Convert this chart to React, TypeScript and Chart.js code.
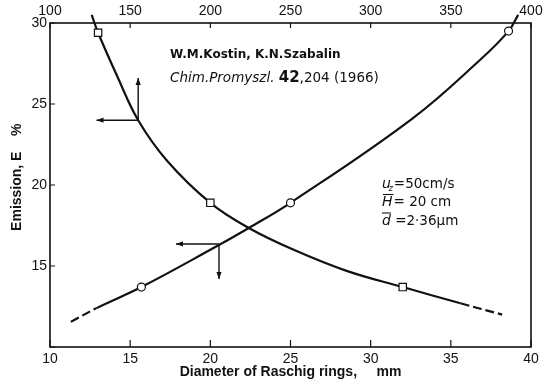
import React, { useEffect, useRef } from 'react';
import { Chart, registerables } from 'chart.js';

Chart.register(...registerables);

// Rising curve: emission vs diameter of Raschig rings (bottom axis, mm)
const diameterMm = [11.3, 12.9, 15.7, 20.0, 22.4, 25.0, 32.6, 36.8, 38.6, 39.2];
const emissionVsDiameter = [11.55, 12.4, 13.7, 16.0, 17.35, 18.9, 24.1, 27.7, 29.5, 30.5];
const circleDiameter = [15.7, 25.0, 38.6];
const circleEmission = [13.7, 18.9, 29.5];

// Falling curve: emission vs top-axis quantity (100..400)
const topValues = [126, 130, 142, 155, 173, 200, 224, 252, 285, 320, 356, 382];
const emissionVsTop = [30.5, 29.4, 26.7, 24.0, 21.5, 18.9, 17.35, 16.0, 14.7, 13.7, 12.7, 12.0];
const squareTop = [130, 200, 320];
const squareEmission = [29.4, 18.9, 13.7];

// Dashed extrapolation limits
const risingDashBelow = 12.9;
const fallingDashAbove = 356;

// Arrow markers: [anchor x, anchor E, horizontal end x, vertical end E]
const arrowFalling = [155, 24.0, 129, 26.6]; // top axis units
const arrowRising = [20.54, 16.36, 17.86, 14.2]; // bottom axis units

// Axis ranges and tick steps
const bottomRange = [10, 40, 5];
const topRange = [100, 400, 50];
const leftRange = [10, 30, 5];

const FONT = '"Liberation Sans", Arial, sans-serif';
const NOTE_FONT = '"DejaVu Sans", "Liberation Sans", sans-serif';

function pts(xs: number[], ys: number[]) {
  return xs.map((x, i) => ({ x, y: ys[i] }));
}

function arrowHead(ctx: CanvasRenderingContext2D, x: number, y: number, dx: number, dy: number) {
  const len = 7, hw = 2.6;
  const px = -dy, py = dx;
  ctx.beginPath();
  ctx.moveTo(x, y);
  ctx.lineTo(x - dx * len + px * hw, y - dy * len + py * hw);
  ctx.lineTo(x - dx * len - px * hw, y - dy * len - py * hw);
  ctx.closePath();
  ctx.fill();
}

function drawArrowPair(ctx: CanvasRenderingContext2D, xs: any, ys: any, a: number[], vertUp: boolean) {
  const ax = xs.getPixelForValue(a[0]);
  const ay = ys.getPixelForValue(a[1]);
  const hx = xs.getPixelForValue(a[2]);
  const vy = ys.getPixelForValue(a[3]);
  ctx.beginPath();
  ctx.moveTo(ax, ay);
  ctx.lineTo(hx, ay);
  ctx.moveTo(ax, ay);
  ctx.lineTo(ax, vy);
  ctx.stroke();
  arrowHead(ctx, hx, ay, -1, 0);
  arrowHead(ctx, ax, vy, 0, vertUp ? -1 : 1);
}

const overlayPlugin = {
  id: 'overlay',
  afterDraw(chart: any) {
    const { ctx, chartArea: a, scales } = chart;
    const sx = scales.x, sx2 = scales.x2, sy = scales.y;
    ctx.save();
    ctx.strokeStyle = '#111';
    ctx.fillStyle = '#111';
    ctx.lineWidth = 1.6;
    ctx.strokeRect(a.left, a.top, a.right - a.left, a.bottom - a.top);

    // inward tick marks
    ctx.lineWidth = 1.2;
    ctx.beginPath();
    sx.ticks.forEach((t: any) => {
      const p = sx.getPixelForValue(t.value);
      ctx.moveTo(p, a.bottom);
      ctx.lineTo(p, a.bottom - 7);
    });
    sx2.ticks.forEach((t: any) => {
      const p = sx2.getPixelForValue(t.value);
      ctx.moveTo(p, a.top);
      ctx.lineTo(p, a.top + 5);
    });
    sy.ticks.forEach((t: any) => {
      const p = sy.getPixelForValue(t.value);
      ctx.moveTo(a.left, p);
      ctx.lineTo(a.left + 5, p);
    });
    ctx.stroke();

    // arrows
    ctx.lineWidth = 1.4;
    drawArrowPair(ctx, sx2, sy, arrowFalling, true);
    drawArrowPair(ctx, sx, sy, arrowRising, false);

    // reference text
    ctx.textBaseline = 'alphabetic';
    ctx.textAlign = 'left';
    ctx.font = `bold 12px ${NOTE_FONT}`;
    ctx.fillText('W.M.Kostin, K.N.Szabalin', 170, 58);
    let x = 170;
    ctx.font = `italic 13.5px ${NOTE_FONT}`;
    const p1 = 'Chim.Promyszl. ';
    ctx.fillText(p1, x, 82);
    x += ctx.measureText(p1).width;
    ctx.font = `bold 15px ${NOTE_FONT}`;
    ctx.fillText('42', x, 82);
    x += ctx.measureText('42').width;
    ctx.font = `13.5px ${NOTE_FONT}`;
    ctx.fillText(',204 (1966)', x, 82);

    // conditions text
    const cx = 382;
    ctx.font = `italic 14px ${NOTE_FONT}`;
    ctx.fillText('u', cx, 188);
    let w = ctx.measureText('u').width;
    ctx.font = `italic 8px ${NOTE_FONT}`;
    ctx.fillText('z', cx + w - 2, 191);
    ctx.font = `13.5px ${NOTE_FONT}`;
    ctx.fillText('=50cm/s', cx + w + 3, 188);

    ctx.font = `italic 14px ${NOTE_FONT}`;
    ctx.fillText('H', cx, 206);
    w = ctx.measureText('H').width;
    ctx.lineWidth = 1.1;
    ctx.beginPath();
    ctx.moveTo(cx + 1, 194.5);
    ctx.lineTo(cx + w + 1, 194.5);
    ctx.stroke();
    ctx.font = `13.5px ${NOTE_FONT}`;
    ctx.fillText('= 20 cm', cx + w + 1, 206);

    ctx.font = `italic 14px ${NOTE_FONT}`;
    ctx.fillText('d', cx, 225);
    w = ctx.measureText('d').width;
    ctx.beginPath();
    ctx.moveTo(cx, 213);
    ctx.lineTo(cx + w, 213);
    ctx.stroke();
    ctx.font = `13.5px ${NOTE_FONT}`;
    ctx.fillText(' =2·36\u03bcm', cx + w, 225);

    ctx.restore();
  },
};

export default function App() {
  const ref = useRef<HTMLCanvasElement | null>(null);

  useEffect(() => {
    if (!ref.current) return;
    const tickFont = { family: FONT, size: 14 };
    const titleFont = { family: FONT, size: 14, weight: 'bold' as const };
    const chart = new Chart(ref.current, {
      type: 'scatter',
      data: {
        datasets: [
          {
            label: 'circles',
            data: pts(circleDiameter, circleEmission),
            xAxisID: 'x',
            yAxisID: 'y',
            pointStyle: 'circle',
            pointRadius: 4,
            pointBackgroundColor: '#ffffff',
            pointBorderColor: '#111',
            pointBorderWidth: 1.2,
            showLine: false,
            order: 0,
            clip: false as any,
          },
          {
            label: 'squares',
            data: pts(squareTop, squareEmission),
            xAxisID: 'x2',
            yAxisID: 'y',
            pointStyle: 'rect',
            pointRadius: 5.2,
            pointBackgroundColor: '#ffffff',
            pointBorderColor: '#111',
            pointBorderWidth: 1.2,
            showLine: false,
            order: 0,
            clip: false as any,
          },
          {
            label: 'rising',
            data: pts(diameterMm, emissionVsDiameter),
            xAxisID: 'x',
            yAxisID: 'y',
            showLine: true,
            pointRadius: 0,
            borderColor: '#111',
            borderWidth: 2.2,
            tension: 0.4,
            segment: {
              borderDash: (c: any) => (c.p0.parsed.x < risingDashBelow ? [9, 4] : undefined),
            },
            order: 1,
            clip: false as any,
          },
          {
            label: 'falling',
            data: pts(topValues, emissionVsTop),
            xAxisID: 'x2',
            yAxisID: 'y',
            showLine: true,
            pointRadius: 0,
            borderColor: '#111',
            borderWidth: 2.2,
            tension: 0.4,
            segment: {
              borderDash: (c: any) => (c.p0.parsed.x >= fallingDashAbove ? [9, 4] : undefined),
            },
            order: 1,
            clip: false as any,
          },
        ],
      },
      options: {
        animation: false,
        responsive: false,
        devicePixelRatio: 1,
        layout: { padding: { left: 0, right: 28, top: 0, bottom: 0 } },
        plugins: { legend: { display: false }, tooltip: { enabled: false } },
        scales: {
          x: {
            type: 'linear',
            position: 'bottom',
            min: bottomRange[0],
            max: bottomRange[1],
            afterFit: (s: any) => { s.height = 39; },
            ticks: { stepSize: bottomRange[2], color: '#111', font: tickFont, padding: 4, maxRotation: 0 },
            grid: { display: false, drawTicks: false },
            border: { display: false },
            title: {
              display: true,
              text: 'Diameter of Raschig rings,     mm',
              color: '#111',
              font: titleFont,
              padding: { top: 0, bottom: 5 },
            },
          },
          x2: {
            type: 'linear',
            position: 'top',
            min: topRange[0],
            max: topRange[1],
            afterFit: (s: any) => { s.height = 23; },
            ticks: { stepSize: topRange[2], color: '#111', font: tickFont, padding: 3, maxRotation: 0 },
            grid: { display: false, drawTicks: false },
            border: { display: false },
          },
          y: {
            type: 'linear',
            position: 'left',
            min: leftRange[0],
            max: leftRange[1],
            afterFit: (s: any) => { s.width = 50; },
            ticks: {
              stepSize: leftRange[2],
              color: '#111',
              font: tickFont,
              padding: 3,
              callback: (v: any) => (v === leftRange[0] ? '' : String(v)),
            },
            grid: { display: false, drawTicks: false },
            border: { display: false },
            title: {
              display: true,
              text: '    Emission, E    %',
              color: '#111',
              font: titleFont,
              padding: { top: 9, bottom: 0 },
            },
          },
        },
      },
      plugins: [overlayPlugin],
    });
    return () => chart.destroy();
  }, []);

  return (
    <div style={{ position: 'fixed', left: 0, top: 0, width: 559, height: 386, background: '#fff' }}>
      <canvas ref={ref} width={559} height={386} />
    </div>
  );
}
